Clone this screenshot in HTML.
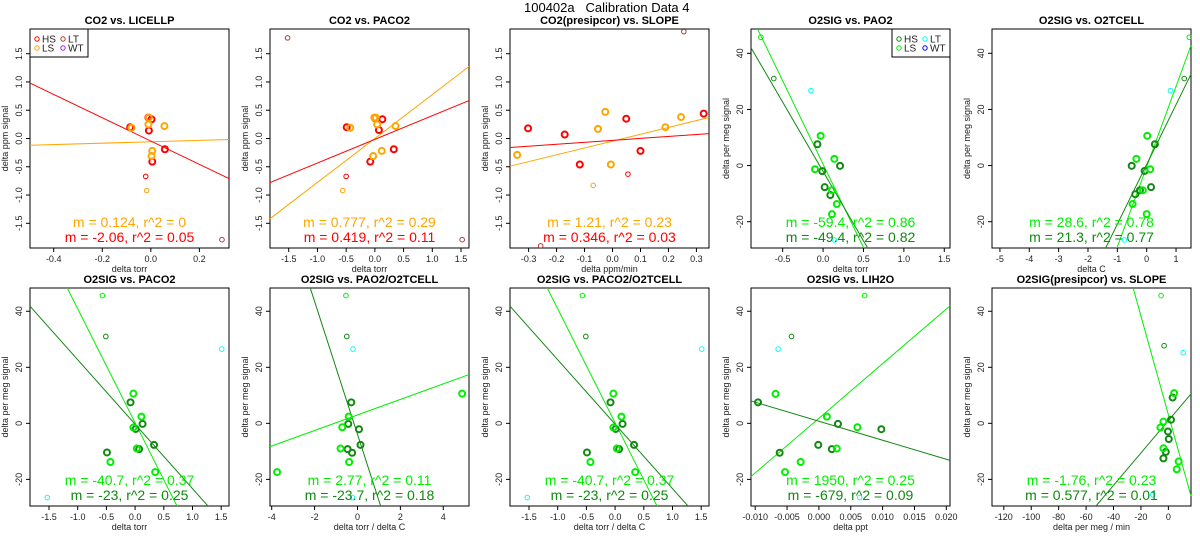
<!DOCTYPE html>
<html><head><meta charset="utf-8"><style>
html,body{margin:0;padding:0;background:#fff;width:1200px;height:550px;overflow:hidden}
svg{display:block;font-family:"Liberation Sans",sans-serif}
</style></head><body>
<svg id="chart" width="1200" height="550" viewBox="0 0 1200 550" xmlns="http://www.w3.org/2000/svg">
<text x="524" y="12" font-size="13" xml:space="preserve" style="white-space:pre">100402a   Calibration Data 4</text>
</svg>
<script>
// ---- data arrays ----
const titles = ["CO2 vs. LICELLP","CO2 vs. PACO2","CO2(presipcor) vs. SLOPE","O2SIG vs. PAO2","O2SIG vs. O2TCELL","O2SIG vs. PACO2","O2SIG vs. PAO2/O2TCELL","O2SIG vs. PACO2/O2TCELL","O2SIG vs. LIH2O","O2SIG(presipcor) vs. SLOPE"];
const xLabels = ["delta torr","delta torr","delta ppm/min","delta torr","delta C","delta torr","delta torr / delta C","delta torr / delta C","delta ppt","delta per meg / min"];
const xRanges = [[-0.4976,0.322],[-1.826,1.639],[-0.3666,0.345],[-0.892,1.571],[-5.27,1.51],[-1.831,1.636],[-4.08,5.2],[-1.831,1.636],[-0.01066,0.02058],[-128.6,16.5]];
const xTicks = [[-0.4,-0.2,0,0.2],[-1.5,-1,-0.5,0,0.5,1,1.5],[-0.3,-0.2,-0.1,0,0.1,0.2,0.3],[-0.5,0,0.5,1,1.5],[-5,-4,-3,-2,-1,0,1],[-1.5,-1,-0.5,0,0.5,1,1.5],[-4,-2,0,2,4],[-1.5,-1,-0.5,0,0.5,1,1.5],[-0.01,-0.005,0,0.005,0.01,0.015,0.02],[-120,-100,-80,-60,-40,-20,0]];
const xTickLabels = [["-0.4","-0.2","0.0","0.2"],["-1.5","-1.0","-0.5","0.0","0.5","1.0","1.5"],["-0.3","-0.2","-0.1","0.0","0.1","0.2","0.3"],["-0.5","0.0","0.5","1.0","1.5"],["-5","-4","-3","-2","-1","0","1"],["-1.5","-1.0","-0.5","0.0","0.5","1.0","1.5"],["-4","-2","0","2","4"],["-1.5","-1.0","-0.5","0.0","0.5","1.0","1.5"],["-0.010","-0.005","0.000","0.005","0.010","0.015","0.020"],["-120","-100","-80","-60","-40","-20","0"]];
const co2YTicks = [-1.5,-1,-0.5,0,0.5,1,1.5];
const co2YTickLabels = ["-1.5","-1.0","-0.5","0.0","0.5","1.0","1.5"];
const o2YTicks = [-20,0,20,40];
const o2YTickLabels = ["-20","0","20","40"];
const p1HS = [[-0.085,0.20],[-0.01,0.37],[0.003,0.34],[-0.008,0.14],[0.058,-0.19],[0.006,-0.41]];
const p1LS = [[-0.08,0.19],[-0.008,0.37],[-0.01,0.25],[0.056,0.22],[0.006,-0.22],[0.003,-0.31]];
const p1Thin = [[-0.021,-0.67,"hs"],[-0.017,-0.92,"ls"],[0.293,-1.79,"lt"]];
const p2HS = [[-0.49,0.20],[0.13,0.34],[0.07,0.15],[0.33,-0.19],[-0.08,-0.41],[0.0,0.36]];
const p2LS = [[-0.43,0.19],[-0.01,0.37],[0.015,0.37],[0.04,0.25],[0.36,0.22],[0.12,-0.22],[-0.03,-0.31]];
const p2Thin = [[-0.5,-0.67,"hs"],[-0.56,-0.92,"ls"],[-1.52,1.78,"lt"],[1.52,-1.79,"lt"]];
const p3HS = [[-0.302,0.18],[-0.171,0.07],[-0.117,-0.46],[0.049,0.35],[0.1,-0.22],[0.326,0.44]];
const p3LS = [[-0.341,-0.29],[-0.052,0.17],[-0.026,0.47],[-0.006,-0.46],[0.189,0.20],[0.245,0.38]];
const p3Thin = [[-0.069,-0.83,"ls"],[0.055,-0.63,"hs"],[0.255,1.89,"lt"],[-0.257,-1.90,"lt"]];
const p4HS = [[-0.07,7.6],[-0.01,-2.0],[0.21,-0.1],[0.02,-7.7],[0.09,-10.5]];
const p4LS = [[-0.03,10.6],[-0.1,-1.3],[0.14,2.4],[0.11,-8.8],[0.17,-13.7],[0.11,-17.3]];
const p4Thin = [[-0.77,45.7,"ls"],[-0.61,31,"hs"],[-0.15,26.7,"lt"],[0.14,-26.5,"lt"]];
const p5HS = [[-0.51,-0.1],[-0.39,-10.2],[-0.07,-1.9],[0.15,-7.7],[0.28,7.6],[-0.23,-8.8]];
const p5LS = [[0.02,10.6],[-0.35,2.4],[0.12,-1.3],[-0.13,-8.8],[-0.48,-13.7],[0,-17.3]];
const p5Thin = [[1.45,45.7,"ls"],[1.28,31,"hs"],[0.81,26.7,"lt"],[-0.76,-26.5,"lt"]];
const p6HS = [[-0.08,7.5],[0.01,-2.0],[0.13,-0.2],[0.33,-7.7],[-0.49,-10.4],[0.07,-9.2]];
const p6LS = [[-0.03,10.6],[0.11,2.4],[-0.03,-1.5],[0.03,-9.0],[-0.43,-13.8],[0.35,-17.4]];
const p6Thin = [[-0.57,45.6,"ls"],[-0.51,31,"hs"],[1.51,26.5,"lt"],[-1.53,-26.5,"lt"]];
const p7HS = [[-0.29,7.5],[-0.43,-0.2],[0.07,-2.1],[0.14,-7.7],[-0.46,-9.2],[-0.25,-10.5]];
const p7LS = [[-0.41,2.4],[-0.71,-1.4],[-0.79,-9.0],[-0.39,-13.8],[-3.75,-17.4],[4.88,10.6]];
const p7Thin = [[-0.54,45.6,"ls"],[-0.5,31,"hs"],[-0.21,26.5,"lt"],[-0.23,-26.5,"lt"]];
const p8HS = [[-0.08,7.5],[0.01,-2.0],[0.13,-0.2],[0.33,-7.7],[-0.49,-10.4],[0.07,-9.2]];
const p8LS = [[-0.03,10.6],[0.11,2.4],[-0.03,-1.5],[0.03,-9.0],[-0.43,-13.8],[0.35,-17.4]];
const p8Thin = [[-0.57,45.6,"ls"],[-0.51,31,"hs"],[1.51,26.5,"lt"],[-1.53,-26.5,"lt"]];
const p9HS = [[-0.00956,7.5],[-0.00616,-10.5],[-0.0001,-7.7],[0.00203,-9.2],[0.00299,-0.2],[0.0098,-2.1]];
const p9LS = [[-0.00681,10.5],[-0.00532,-17.4],[-0.00287,-13.8],[0.00125,2.4],[0.00281,-9.0],[0.00604,-1.4]];
const p9Thin = [[0.00717,45.6,"ls"],[-0.0043,31,"hs"],[-0.0064,26.5,"lt"],[0.0064,-26.5,"lt"]];
const p10HS = [[3.1,9.2],[1.9,1.3],[-0.3,-2.9],[0.3,-5.6],[-1.9,-10.2],[-3.6,-12.5]];
const p10LS = [[4.2,10.8],[-3.6,0.6],[-5.8,-1.5],[-3.6,-8.9],[7.5,-13.6],[6.1,-16.4]];
const p10Thin = [[-5.3,45.6,"ls"],[-3.1,27.7,"hs"],[10.8,25.2,"lt"],[-11.4,-25.5,"lt"]];
const fitLS = [[-0.058,0.124],[0.0,0.777],[-0.046,1.21],[0.5,-59.4],[-0.4,28.6],[0.2,-40.7],[3.0,2.77],[0.2,-40.7],[1.8,1950],[3.1,-1.76]];
const fitHS = [[-0.045,-2.06],[-0.015,0.419],[-0.033,0.346],[-2.1,-49.4],[0.4,21.3],[-0.3,-23],[-3.9,-23.7],[-0.3,-23],[0.76,-679],[0.97,0.577]];
const statLS = ["m = 0.124, r^2 = 0","m = 0.777, r^2 = 0.29","m = 1.21, r^2 = 0.23","m = -59.4, r^2 = 0.86","m = 28.6, r^2 = 0.78","m = -40.7, r^2 = 0.37","m = 2.77, r^2 = 0.11","m = -40.7, r^2 = 0.37","m = 1950, r^2 = 0.25","m = -1.76, r^2 = 0.23"];
const statHS = ["m = -2.06, r^2 = 0.05","m = 0.419, r^2 = 0.11","m = 0.346, r^2 = 0.03","m = -49.4, r^2 = 0.82","m = 21.3, r^2 = 0.77","m = -23, r^2 = 0.25","m = -23.7, r^2 = 0.18","m = -23, r^2 = 0.25","m = -679, r^2 = 0.09","m = 0.577, r^2 = 0.01"];
const HSsets=[p1HS,p2HS,p3HS,p4HS,p5HS,p6HS,p7HS,p8HS,p9HS,p10HS];
const LSsets=[p1LS,p2LS,p3LS,p4LS,p5LS,p6LS,p7LS,p8LS,p9LS,p10LS];
const Thinsets=[p1Thin,p2Thin,p3Thin,p4Thin,p5Thin,p6Thin,p7Thin,p8Thin,p9Thin,p10Thin];

const NS="http://www.w3.org/2000/svg";
const svg=document.getElementById('chart');
function mk(tag,attrs,parent){const e=document.createElementNS(NS,tag);for(const k in attrs)e.setAttribute(k,attrs[k]);(parent||svg).appendChild(e);return e;}
const lefts=[30,270,510,751,992];
const co2Col={hs:"#ff0000",ls:"#ffa500",lt:"#b03a3a",wt:"#a020f0"};
const o2Col={hs:"#118811",ls:"#00ee00",lt:"#00ffff",wt:"#0000ff"};

for(let i=0;i<10;i++){
  const row=i<5?0:1, col=i%5;
  const L=lefts[col], R=L+199, T=row?288:29, B=row?506:248;
  const isCO2=i<3;
  const yr=isCO2?[-1.937,1.937]:(row?[-29.5,48.3]:[-29.37,48.66]);
  const xr=xRanges[i];
  const sx=v=>L+(v-xr[0])/(xr[1]-xr[0])*(R-L);
  const sy=v=>B-(v-yr[0])/(yr[1]-yr[0])*(B-T);
  const C=isCO2?co2Col:o2Col;
  const g=mk('g',{});
  
  
  const cp=mk('clipPath',{id:'cp'+i},g);
  mk('rect',{x:L-3,y:T,width:R-L+6,height:B-T},cp);
  const t=mk('text',{x:(L+R)/2,y:T-5,'font-size':11,'font-weight':'bold','text-anchor':'middle'},g);
  t.textContent=titles[i];
  
  
  const box=mk('rect',{x:L,y:T,width:R-L,height:B-T,fill:'none',stroke:'#000','stroke-width':1},g);
  
  
  xTicks[i].forEach((v,k)=>{
    const x=sx(v);
    mk('line',{x1:x,x2:x,y1:B,y2:B+4,stroke:'#000'},g);
    const tl=mk('text',{x:x,y:B+14,'font-size':9,'text-anchor':'middle',fill:'#222'},g);
    tl.textContent=xTickLabels[i][k];
    
    
  });
  mk('line',{x1:sx(xTicks[i][0]),x2:sx(xTicks[i][xTicks[i].length-1]),y1:B,y2:B,stroke:'#000'},g);
  const xl=mk('text',{x:(L+R)/2,y:B+24,'font-size':9,'text-anchor':'middle',fill:'#222'},g);
  xl.textContent=xLabels[i];
  
  
  const yt=isCO2?co2YTicks:o2YTicks, ytl=isCO2?co2YTickLabels:o2YTickLabels;
  yt.forEach((v,k)=>{
    const y=sy(v);
    mk('line',{x1:L-4,x2:L,y1:y,y2:y,stroke:'#000'},g);
    const tl=mk('text',{x:L-8,y:y,'font-size':9,'text-anchor':'middle',fill:'#222',transform:`rotate(-90 ${L-8} ${y})`},g);
    tl.textContent=ytl[k];
    
    
  });
  const yl=mk('text',{x:L-22,y:(T+B)/2,'font-size':9,'text-anchor':'middle',fill:'#222',transform:`rotate(-90 ${L-22} ${(T+B)/2})`},g);
  yl.textContent=isCO2?'delta ppm signal':'delta per meg signal';
  
  
  const cg=mk('g',{'clip-path':`url(#cp${i})`},g);
  [[fitLS[i],C.ls],[fitHS[i],C.hs]].forEach(([f,c],k)=>{
    const ln=mk('line',{x1:sx(xr[0]),y1:sy(f[0]+f[1]*xr[0]),x2:sx(xr[1]),y2:sy(f[0]+f[1]*xr[1]),stroke:c,'stroke-width':1},cg);
    
    
  });
  Thinsets[i].forEach(p=>{
    const c=mk('circle',{cx:sx(p[0]),cy:sy(p[1]),r:2.3,fill:'none',stroke:C[p[2]],'stroke-width':1},cg);
    
    
  });
  HSsets[i].forEach(p=>{
    const c=mk('circle',{cx:sx(p[0]),cy:sy(p[1]),r:3,fill:'none',stroke:C.hs,'stroke-width':2},cg);
    
    
  });
  LSsets[i].forEach(p=>{
    const c=mk('circle',{cx:sx(p[0]),cy:sy(p[1]),r:3,fill:'none',stroke:C.ls,'stroke-width':2},cg);
    
    
  });
  const s1=mk('text',{x:(L+R)/2,y:B-21,'font-size':14,'text-anchor':'middle',fill:C.ls},g);
  s1.textContent=statLS[i];
  
  
  const s2=mk('text',{x:(L+R)/2,y:B-6,'font-size':14,'text-anchor':'middle',fill:C.hs},g);
  s2.textContent=statHS[i];
  
  
  if(i===0||i===3){
    const lx=i===0?L:R-58, ly=T;
    const lg=mk('g',{},g);
    
    
    mk('rect',{x:lx,y:ly,width:58,height:28,fill:'#fff',stroke:'#000'},lg);
    [["HS","hs",0,0],["LS","ls",0,1],["LT","lt",1,0],["WT","wt",1,1]].forEach(e=>{
      const ex=lx+7+e[2]*26, ey=ly+10+e[3]*9;
      mk('circle',{cx:ex,cy:ey,r:2.2,fill:'none',stroke:C[e[1]],'stroke-width':1},lg);
      const tx=mk('text',{x:ex+5,y:ey+3.5,'font-size':10,fill:'#222'},lg);
      tx.textContent=e[0];
      
      
    });
  }
}
</script>
</body></html>
